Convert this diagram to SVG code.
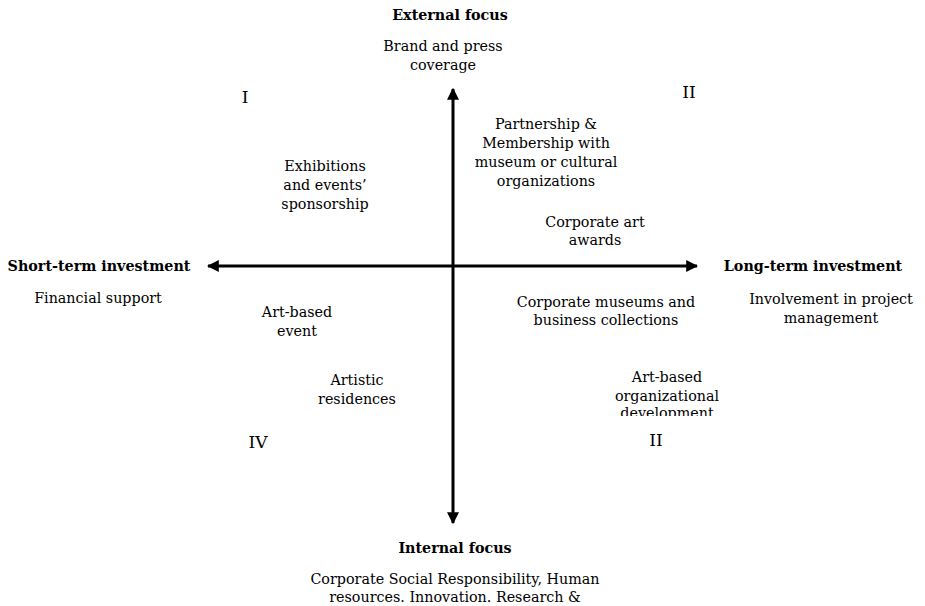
<svg xmlns="http://www.w3.org/2000/svg" width="925" height="606" viewBox="0 0 925 606">
<style>
text{font-family:"DejaVu Serif","Liberation Serif",serif;font-size:14.3px;fill:#000;text-anchor:middle}
.b{font-weight:bold;font-size:14.3px}
.q{font-size:17px}
.ax{stroke:#000;stroke-width:3;fill:none}
</style>
<defs>
<marker id="ah" viewBox="0 0 10 10" refX="9" refY="5" markerWidth="4" markerHeight="4" orient="auto-start-reverse" markerUnits="strokeWidth">
<path d="M0,0 L10,5 L0,10 z" fill="#000"/>
</marker>
<clipPath id="cl"><rect x="0" y="0" width="925" height="416"/></clipPath>
</defs>
<rect width="925" height="606" fill="#fff"/>
<g id="connectors">
<line class="ax" x1="453" y1="523" x2="453" y2="89" marker-end="url(#ah)" marker-start="url(#ah)"/>
<line class="ax" x1="208" y1="266" x2="697" y2="266" marker-end="url(#ah)" marker-start="url(#ah)"/>
</g>
<g id="external"><text class="b" x="450" y="20">External focus</text></g>
<g id="brand"><text x="443" y="51">Brand and press</text><text x="443" y="70">coverage</text></g>
<g id="q1"><text class="q" x="245" y="103">I</text></g>
<g id="q2"><text class="q" x="689" y="98">II</text></g>
<g id="partnership"><text x="546" y="129">Partnership &amp;</text><text x="546" y="148">Membership with</text><text x="546" y="167">museum or cultural</text><text x="546" y="186">organizations</text></g>
<g id="exhibitions"><text x="325" y="171">Exhibitions</text><text x="325" y="190">and events’</text><text x="325" y="209">sponsorship</text></g>
<g id="awards"><text x="595" y="227">Corporate art</text><text x="595" y="245">awards</text></g>
<g id="short"><text class="b" x="99" y="271">Short-term investment</text></g>
<g id="long"><text class="b" x="813" y="271">Long-term investment</text></g>
<g id="financial"><text x="98" y="303">Financial support</text></g>
<g id="artevent"><text x="297" y="317">Art-based</text><text x="297" y="336">event</text></g>
<g id="museums"><text x="606" y="307">Corporate museums and</text><text x="606" y="325">business collections</text></g>
<g id="involvement"><text x="831" y="304">Involvement in project</text><text x="831" y="323">management</text></g>
<g id="residences"><text x="357" y="385">Artistic</text><text x="357" y="404">residences</text></g>
<g id="orgdev" clip-path="url(#cl)"><text x="667" y="382">Art-based</text><text x="667" y="401">organizational</text><text x="667" y="418">development</text></g>
<g id="q4"><text class="q" x="258" y="448">IV</text></g>
<g id="q3"><text class="q" x="656" y="446">II</text></g>
<g id="internal"><text class="b" x="455" y="553">Internal focus</text></g>
<g id="csr"><text x="455" y="584">Corporate Social Responsibility, Human</text><text x="455" y="602">resources. Innovation. Research &amp;</text></g>
</svg>
